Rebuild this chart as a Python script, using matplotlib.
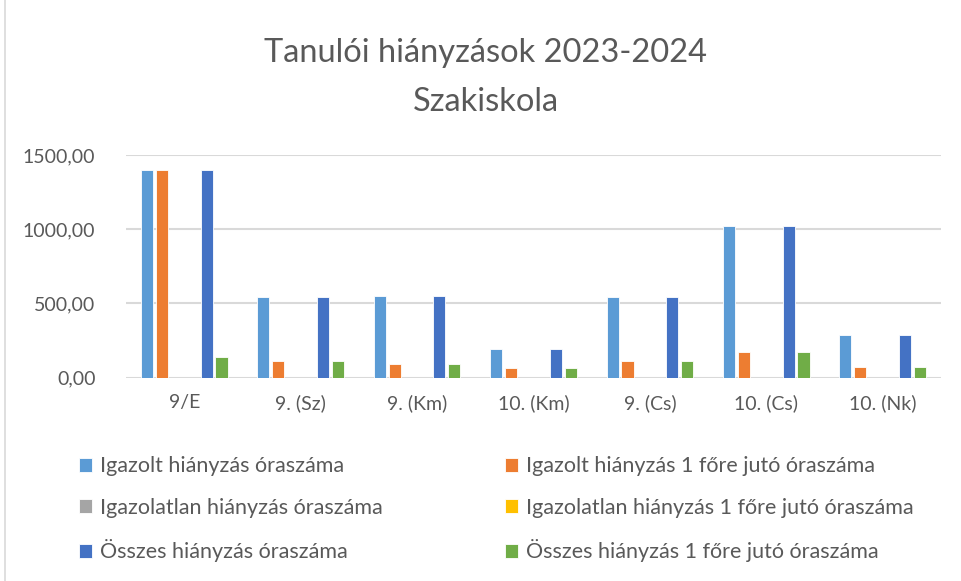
import numpy as np
import matplotlib.pyplot as plt
from matplotlib.patches import Rectangle

plt.rcParams['font.family'] = ['Lato', 'DejaVu Sans']

# Adatok
osztalyok = ["9/E", "9. (Sz)", "9. (Km)", "10. (Km)", "9. (Cs)", "10. (Cs)", "10. (Nk)"]
igazolt = [1397, 541, 550, 193, 541, 1023, 290]
igazolt_fore = [1397, 110, 90, 63, 110, 171, 72]
igazolatlan = [0, 0, 0, 0, 0, 0, 0]
igazolatlan_fore = [0, 0, 0, 0, 0, 0, 0]
osszes = [1397, 541, 550, 193, 541, 1023, 290]
osszes_fore = [141, 110, 90, 63, 110, 171, 72]

sorozatok = [
    ("Igazolt hiányzás óraszáma", igazolt, "#5b9bd5"),
    ("Igazolt hiányzás 1 főre jutó óraszáma", igazolt_fore, "#ed7d31"),
    ("Igazolatlan hiányzás óraszáma", igazolatlan, "#a5a5a5"),
    ("Igazolatlan hiányzás 1 főre jutó óraszáma", igazolatlan_fore, "#ffc000"),
    ("Összes hiányzás óraszáma", osszes, "#4472c4"),
    ("Összes hiányzás 1 főre jutó óraszáma", osszes_fore, "#70ad47"),
]

fig = plt.figure(figsize=(9.62, 5.81), dpi=100)
ax = fig.add_axes([0.131, 0.35, 0.847, 0.383])

x = np.arange(len(osztalyok))
slot = 0.128
w = 0.104
for i, (nev, ertek, szin) in enumerate(sorozatok):
    ax.bar(x + (i - 2.5) * slot, ertek, w, color=szin, label=nev,
           edgecolor="white", linewidth=0.6, zorder=3)

ax.set_xlim(-0.5, len(osztalyok) - 0.5)
ax.set_ylim(0, 1500)
ax.set_yticks([0, 500, 1000, 1500])
ax.set_yticklabels([f"{v:.2f}".replace(".", ",") for v in [0, 500, 1000, 1500]])
ax.set_xticks(x)
ax.set_xticklabels(osztalyok)
ax.tick_params(axis="both", length=0, labelsize=14, labelcolor="#595959")
ax.tick_params(axis="y", pad=22)
ax.tick_params(axis="x", pad=12)
ax.grid(axis="y", color="#d9d9d9", linewidth=1.5, zorder=0)
for s in ax.spines.values():
    s.set_visible(False)

fig.text(0.505, 0.908, "Tanulói hiányzások 2023-2024", ha="center", va="center",
         fontsize=23.5, color="#595959")
fig.text(0.505, 0.825, "Szakiskola", ha="center", va="center",
         fontsize=23.5, color="#595959")

# sorrend: soronként két bejegyzés
h, l = ax.get_legend_handles_labels()
sorrend = [0, 2, 4, 1, 3, 5]
fig.legend([h[i] for i in sorrend], [l[i] for i in sorrend], ncol=2,
           loc="upper left", bbox_to_anchor=(0.062, 0.248),
           frameon=False, fontsize=15.5, labelcolor="#595959",
           handlelength=0.6, handleheight=0.6, handletextpad=0.37,
           columnspacing=5.7, labelspacing=1.0)

fig.patches.append(Rectangle((0.005, -0.01), 1.2, 1.2, transform=fig.transFigure,
                             fill=False, edgecolor="#d9d9d9", linewidth=1.2))

fig.savefig("out.png", dpi=100)
